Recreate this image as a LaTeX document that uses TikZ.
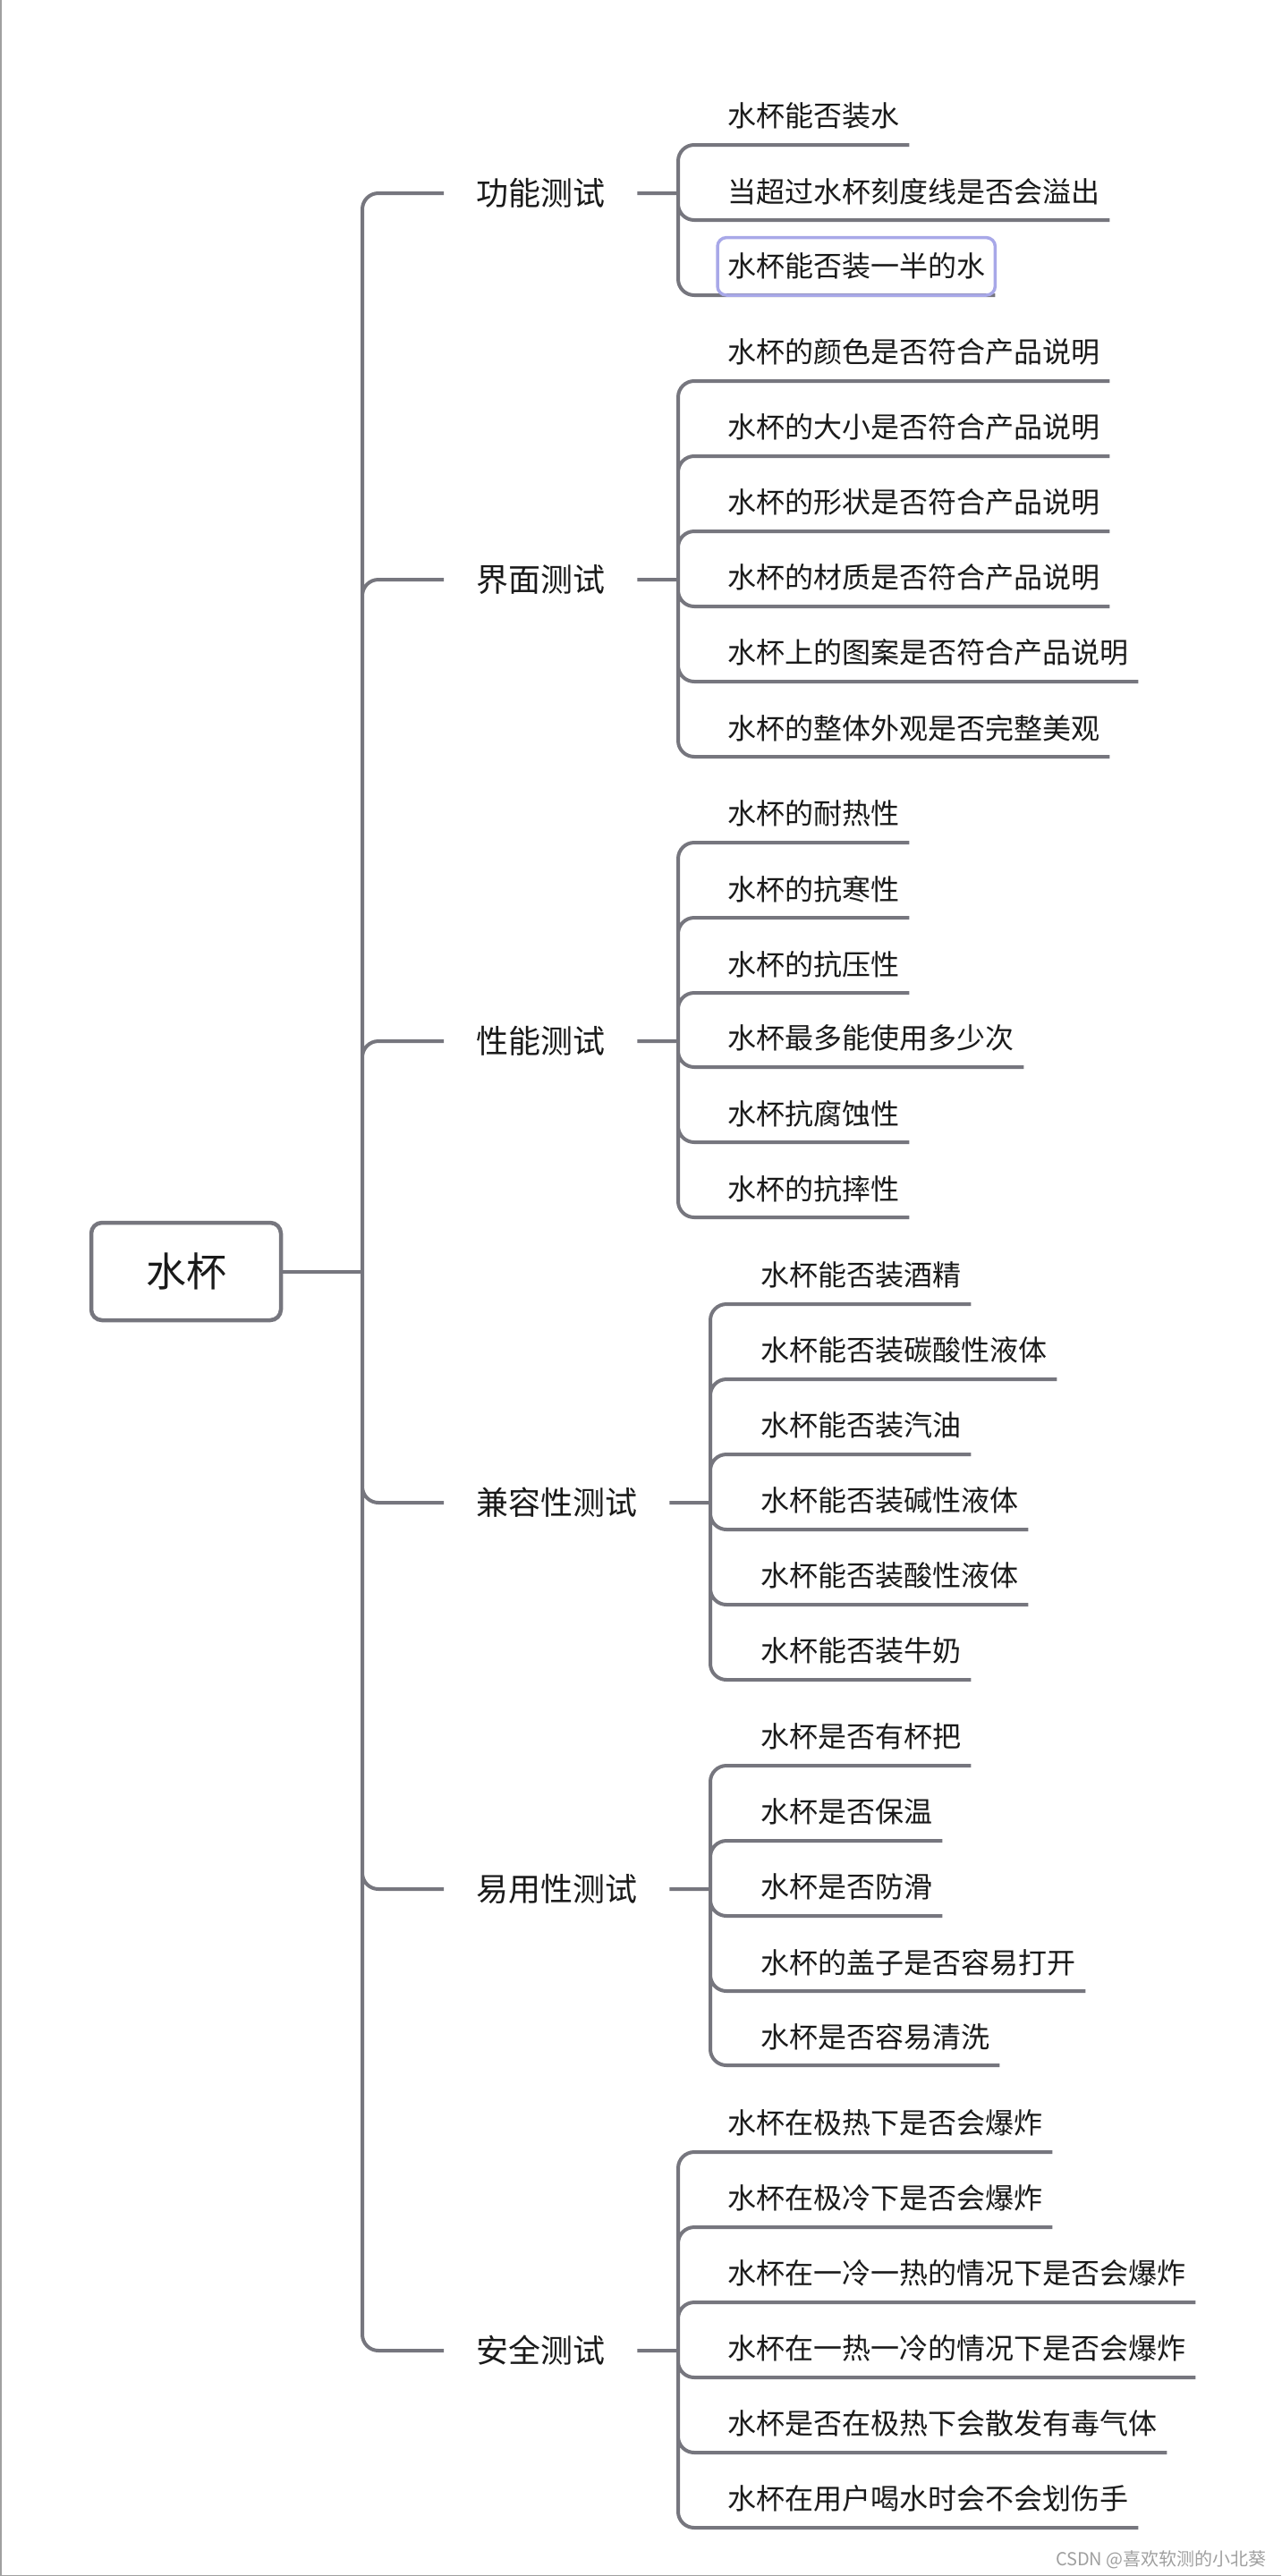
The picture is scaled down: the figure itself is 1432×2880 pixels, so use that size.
\documentclass[tikz,border=0pt]{standalone}
\usepackage{fontspec}
\setmainfont{Noto Sans CJK SC}
\usepackage{tikz}
\definecolor{linegray}{RGB}{118,118,126}
\definecolor{txt}{RGB}{26,26,26}
\definecolor{pick}{RGB}{168,168,232}
\definecolor{framegray}{RGB}{160,160,160}

\begin{document}
\begin{tikzpicture}[x=1pt,y=-1pt,
	conn/.style={draw=linegray, line width=4pt, rounded corners=18pt},
	leaf/.style={anchor=south west, inner xsep=11pt, inner ysep=0pt, minimum height=64pt, text=txt, font=\fontsize{32}{32}\selectfont},
	branch/.style={anchor=west, inner xsep=36pt, inner ysep=0pt, minimum height=60pt, text=txt, font=\fontsize{36}{36}\selectfont},
	rootbox/.style={draw=linegray, line width=4.5pt, rounded corners=12pt, minimum width=212pt, minimum height=109pt, text=txt, font=\fontsize{45}{45}\selectfont},
	wmark/.style={anchor=east, inner sep=0pt, text=gray!75, font=\fontsize{20}{20}\selectfont}]
			\useasboundingbox (0,0) rectangle (1432,2880);
			\draw[framegray, line width=1.5pt] (0.75,0)--(0.75,2879.25)--(1432,2879.25);
			
			\node[rootbox] (cup) at (208,1421.5){水杯};
			\coordinate (cupj) at (405,1421.5);
			
			\node[branch] (func) at (496,216){功能测试};
			\node[branch] (ui) at (496,648){界面测试};
			\node[branch] (perf) at (496,1164){性能测试};
			\node[branch] (compat) at (496,1680){兼容性测试};
			\node[branch] (usab) at (496,2112){易用性测试};
			\node[branch] (safe) at (496,2628){安全测试};
			
			\coordinate (funcj) at (758,216);
			\coordinate (uij) at (758,648);
			\coordinate (perfj) at (758,1164);
			\coordinate (compatj) at (794,1680);
			\coordinate (usabj) at (794,2112);
			\coordinate (safej) at (758,2628);
			
			% leaves
			\node[leaf] (func1) at (802,162){水杯能否装水};
			\node[leaf] (func2) at (802,246){当超过水杯刻度线是否会溢出};
			\node[leaf] (func3) at (802,330){水杯能否装一半的水};
			
			\node[leaf] (ui1) at (802,426){水杯的颜色是否符合产品说明};
			\node[leaf] (ui2) at (802,510){水杯的大小是否符合产品说明};
			\node[leaf] (ui3) at (802,594){水杯的形状是否符合产品说明};
			\node[leaf] (ui4) at (802,678){水杯的材质是否符合产品说明};
			\node[leaf] (ui5) at (802,762){水杯上的图案是否符合产品说明};
			\node[leaf] (ui6) at (802,846){水杯的整体外观是否完整美观};
			
			\node[leaf] (perf1) at (802,942){水杯的耐热性};
			\node[leaf] (perf2) at (802,1026){水杯的抗寒性};
			\node[leaf] (perf3) at (802,1110){水杯的抗压性};
			\node[leaf] (perf4) at (802,1193){水杯最多能使用多少次};
			\node[leaf] (perf5) at (802,1277){水杯抗腐蚀性};
			\node[leaf] (perf6) at (802,1361){水杯的抗摔性};
			
			\node[leaf] (compat1) at (839,1458){水杯能否装酒精};
			\node[leaf] (compat2) at (839,1542){水杯能否装碳酸性液体};
			\node[leaf] (compat3) at (839,1626){水杯能否装汽油};
			\node[leaf] (compat4) at (839,1710){水杯能否装碱性液体};
			\node[leaf] (compat5) at (839,1794){水杯能否装酸性液体};
			\node[leaf] (compat6) at (839,1878){水杯能否装牛奶};
			
			\node[leaf] (usab1) at (839,1974){水杯是否有杯把};
			\node[leaf] (usab2) at (839,2058){水杯是否保温};
			\node[leaf] (usab3) at (839,2142){水杯是否防滑};
			\node[leaf] (usab4) at (839,2226){水杯的盖子是否容易打开};
			\node[leaf] (usab5) at (839,2309){水杯是否容易清洗};
			
			\node[leaf] (safe1) at (802,2406){水杯在极热下是否会爆炸};
			\node[leaf] (safe2) at (802,2490){水杯在极冷下是否会爆炸};
			\node[leaf] (safe3) at (802,2574){水杯在一冷一热的情况下是否会爆炸};
			\node[leaf] (safe4) at (802,2658){水杯在一热一冷的情况下是否会爆炸};
			\node[leaf] (safe5) at (802,2742){水杯是否在极热下会散发有毒气体};
			\node[leaf] (safe6) at (802,2826){水杯在用户喝水时会不会划伤手};
			
			% root to branches
			\draw[conn] (cup.east)--(cupj);
			\draw[conn] (cupj) |- (func.west)  (cupj) |- (ui.west)  (cupj) |- (perf.west)
				(cupj) |- (compat.west)  (cupj) |- (usab.west)  (cupj) |- (safe.west);
			
			% branches to leaves
			\draw[conn] (func.east)--(funcj)  (funcj) |- (func1.south east)  (funcj) |- (func2.south east)  (funcj) |- (func3.south east);
			\draw[conn] (ui.east)--(uij)  (uij) |- (ui1.south east)  (uij) |- (ui2.south east)  (uij) |- (ui3.south east)
				(uij) |- (ui4.south east)  (uij) |- (ui5.south east)  (uij) |- (ui6.south east);
			\draw[conn] (perf.east)--(perfj)  (perfj) |- (perf1.south east)  (perfj) |- (perf2.south east)  (perfj) |- (perf3.south east)
				(perfj) |- (perf4.south east)  (perfj) |- (perf5.south east)  (perfj) |- (perf6.south east);
			\draw[conn] (compat.east)--(compatj)  (compatj) |- (compat1.south east)  (compatj) |- (compat2.south east)  (compatj) |- (compat3.south east)
				(compatj) |- (compat4.south east)  (compatj) |- (compat5.south east)  (compatj) |- (compat6.south east);
			\draw[conn] (usab.east)--(usabj)  (usabj) |- (usab1.south east)  (usabj) |- (usab2.south east)  (usabj) |- (usab3.south east)
				(usabj) |- (usab4.south east)  (usabj) |- (usab5.south east);
			\draw[conn] (safe.east)--(safej)  (safej) |- (safe1.south east)  (safej) |- (safe2.south east)  (safej) |- (safe3.south east)
				(safej) |- (safe4.south east)  (safej) |- (safe5.south east)  (safej) |- (safe6.south east);
			
			% selected topic
			\draw[pick, line width=3.5pt, rounded corners=10pt] (func3.south west) rectangle (func3.north east);
			
			\node[wmark] (csdn) at (1416,2862){CSDN @喜欢软测的小北葵};
		\end{tikzpicture}
\end{document}
